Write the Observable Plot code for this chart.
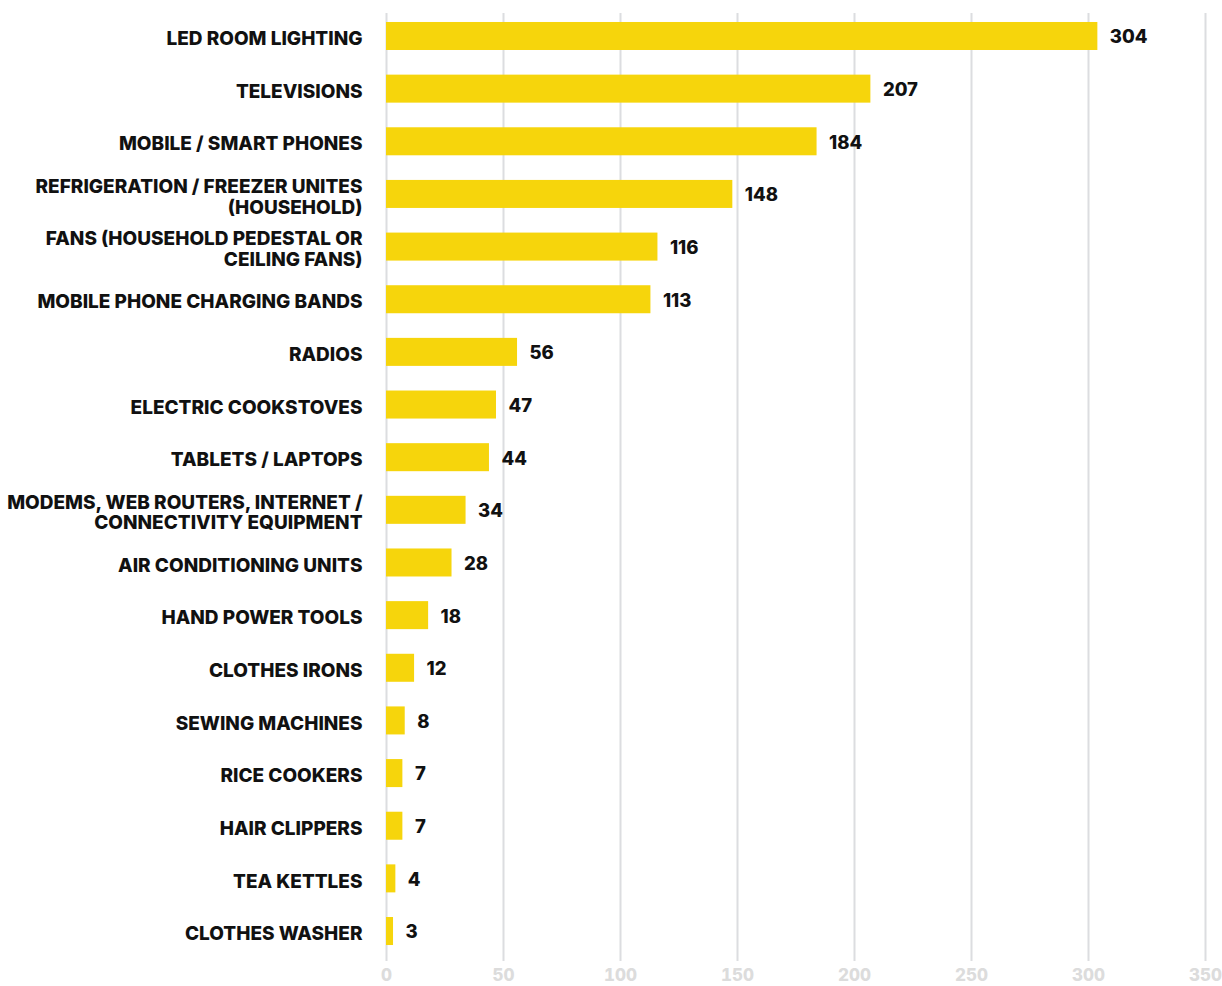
<!DOCTYPE html>
<html><head><meta charset="utf-8">
<script src="https://cdn.jsdelivr.net/npm/d3@7"></script>
<script src="https://cdn.jsdelivr.net/npm/@observablehq/plot@0.6"></script>
<style>body{margin:0;background:#fff}</style>
</head><body><div id="chart"></div>
<script>
const categories = [
  "LED ROOM LIGHTING",
  "TELEVISIONS",
  "MOBILE / SMART PHONES",
  "REFRIGERATION / FREEZER UNITES\n(HOUSEHOLD)",
  "FANS (HOUSEHOLD PEDESTAL OR\nCEILING FANS)",
  "MOBILE PHONE CHARGING BANDS",
  "RADIOS",
  "ELECTRIC COOKSTOVES",
  "TABLETS / LAPTOPS",
  "MODEMS, WEB ROUTERS, INTERNET /\nCONNECTIVITY EQUIPMENT",
  "AIR CONDITIONING UNITS",
  "HAND POWER TOOLS",
  "CLOTHES IRONS",
  "SEWING MACHINES",
  "RICE COOKERS",
  "HAIR CLIPPERS",
  "TEA KETTLES",
  "CLOTHES WASHER"
];
const values = [304, 207, 184, 148, 116, 113, 56, 47, 44, 34, 28, 18, 12, 8, 7, 7, 4, 3];
const xTicks = [0, 50, 100, 150, 200, 250, 300, 350];

const data = categories.map((c, i) => ({category: c, value: values[i]}));

const chart = Plot.plot({
  width: 1222,
  height: 986,
  marginLeft: 386,
  marginRight: 17,
  marginTop: 13,
  marginBottom: 25,
  style: {fontFamily: "Inter, sans-serif", background: "#fff"},
  x: {domain: [0, 350], label: null},
  y: {domain: categories, paddingInner: 0.468, paddingOuter: 0.237, align: 0.36, round: false, label: null},
  marks: [
    Plot.ruleX(xTicks, {stroke: "#dcdde0", strokeWidth: 2}),
    Plot.barX(data, {y: "category", x: "value", fill: "#f6d50c"}),
    Plot.text(data, {y: "category", x: "value", text: d => String(d.value), textAnchor: "start", dx: 12, dy: 1, fontSize: 18.5, fontWeight: 800, fill: "#111"}),
    Plot.axisX({ticks: xTicks, tickSize: 0, tickPadding: 7, fontSize: 17, fontWeight: 800, color: "#dcdcdc", label: null}),
    Plot.axisY({tickSize: 0, tickPadding: 24, dy: 2, fontSize: 19, fontWeight: 800, color: "#111", lineHeight: 1.1, label: null})
  ]
});
document.getElementById("chart").appendChild(chart);
</script>
</body></html>
